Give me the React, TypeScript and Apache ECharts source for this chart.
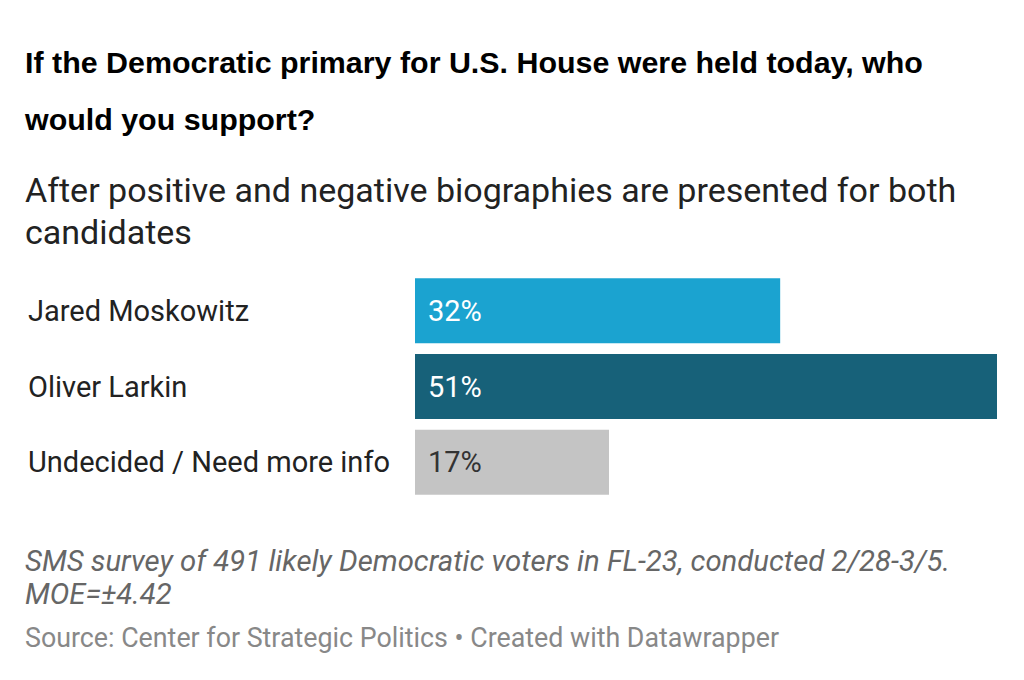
import React, { useEffect, useRef } from "react";
import * as echarts from "echarts";

const categories = ["Jared Moskowitz", "Oliver Larkin", "Undecided / Need more info"];
const values = [32, 51, 17];
const barColors = ["#1ba3d0", "#176179", "#c4c4c4"];
const labelColors = ["#ffffff", "#ffffff", "#333333"];

const titleLines = [
  "If the Democratic primary for U.S. House were held today, who",
  "would you support?",
];
const subtitleLines = [
  "After positive and negative biographies are presented for both",
  "candidates",
];
const noteLines = [
  "SMS survey of 491 likely Democratic voters in FL-23, conducted 2/28-3/5.",
  "MOE=±4.42",
];
const sourceText = "Source: Center for Strategic Politics • Created with Datawrapper";

export default function App() {
  const ref = useRef<HTMLDivElement>(null);
  useEffect(() => {
    if (!ref.current) return;
    const chart = echarts.init(ref.current, null, { renderer: "svg" });
    const graphics: any[] = [];
    const titleY = [62, 119];
    titleLines.forEach((t, i) =>
      graphics.push({
        type: "text",
        x: 25,
        y: titleY[i],
        style: {
          text: t,
          font: "bold 30.4px 'Liberation Sans', Arial, sans-serif",
          fill: "#000",
          verticalAlign: "middle",
        },
      })
    );
    const subY = [190, 232];
    subtitleLines.forEach((t, i) =>
      graphics.push({
        type: "text",
        x: 25,
        y: subY[i],
        style: { text: t, font: "34px Roboto, sans-serif", fill: "#222", verticalAlign: "middle" },
      })
    );
    const noteY = [561, 594];
    noteLines.forEach((t, i) =>
      graphics.push({
        type: "text",
        x: 25,
        y: noteY[i],
        style: { text: t, font: "italic 29.3px Roboto, sans-serif", fill: "#666", verticalAlign: "middle" },
      })
    );
    graphics.push({
      type: "text",
      x: 25,
      y: 638,
      style: { text: sourceText, font: "26.8px Roboto, sans-serif", fill: "#888", verticalAlign: "middle" },
    });

    chart.setOption({
      animation: false,
      grid: { left: 415, right: 27, top: 273, bottom: 180, containLabel: false },
      xAxis: { type: "value", min: 0, max: 51, show: false },
      yAxis: {
        type: "category",
        data: categories,
        inverse: true,
        axisLine: { show: false },
        axisTick: { show: false },
        axisLabel: {
          align: "left",
          margin: 387,
          fontFamily: "Roboto, sans-serif",
          fontSize: 29,
          color: "#222",
        },
      },
      series: [
        {
          type: "bar",
          barWidth: 65,
          data: values.map((v, i) => ({
            value: v,
            itemStyle: { color: barColors[i] },
            label: { color: labelColors[i] },
          })),
          label: {
            show: true,
            position: "insideLeft",
            distance: 13,
            formatter: "{c}%",
            fontFamily: "Roboto, sans-serif",
            fontSize: 29,
          },
        },
      ],
      graphic: graphics,
    });
    return () => chart.dispose();
  }, []);
  return (
    <div
      ref={ref}
      style={{ position: "fixed", left: 0, top: 0, width: 1024, height: 680, background: "#fff" }}
    />
  );
}
